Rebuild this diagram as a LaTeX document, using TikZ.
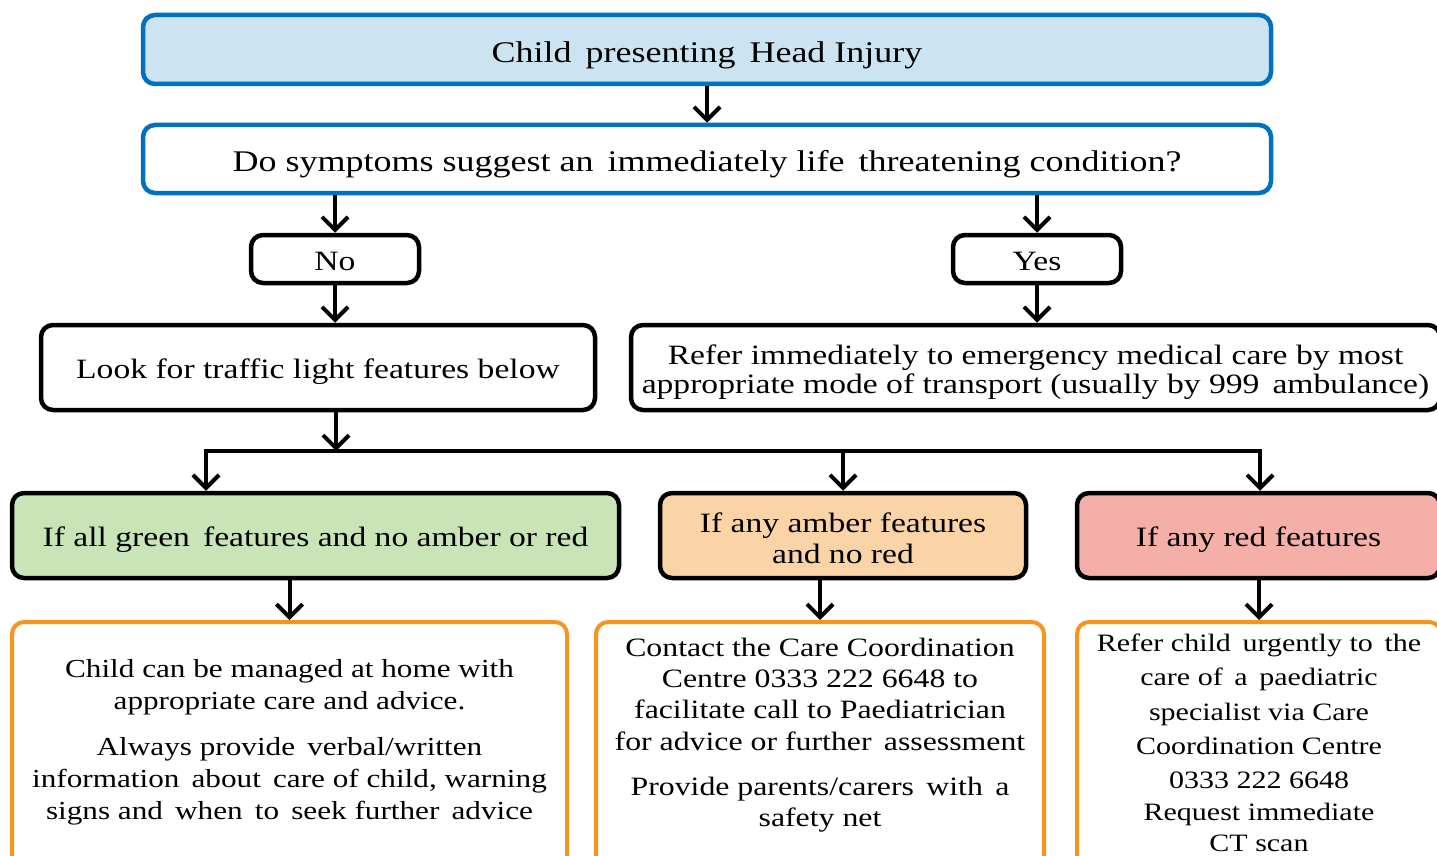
\documentclass[tikz,border=0pt]{standalone}
\usepackage{fontspec}
\setmainfont{Liberation Serif}[FakeStretch=1.2]
\usetikzlibrary{arrows.meta}
\definecolor{bblue}{HTML}{0070C0}
\definecolor{lblue}{HTML}{CCE3F1}
\definecolor{lgreen}{HTML}{C9E5B8}
\definecolor{lamber}{HTML}{FAD3A6}
\definecolor{lred}{HTML}{F4AFA8}
\definecolor{orng}{HTML}{F7941E}
\tikzset{
  box/.style={draw, rectangle, rounded corners=12pt, line width=4.5pt, inner sep=0pt},
  bluebox/.style={box, draw=bblue},
  blackbox/.style={box, draw=black},
  orangebox/.style={box, draw=orng, line width=4pt},
  txt/.style={inner sep=0pt, align=center},
  bigtxt/.style={txt, font=\fontsize{30}{36}\selectfont},
  midtxt/.style={txt, font=\fontsize{28}{31}\selectfont},
  arr/.style={line width=4pt, -{Straight Barb[length=13pt,width=26pt,line width=4pt]}},
  ln/.style={line width=4pt}
}
\begin{document}
\begin{tikzpicture}[x=1pt,y=-1pt]
\useasboundingbox (0,0) rectangle (1437,856);
\clip (0,0) rectangle (1437,856);
\fill[white] (0,0) rectangle (1437,856);

% boxes
\node[bluebox, fill=lblue, minimum width=1128pt, minimum height=69pt] (top) at (707,49.5) {};
\node[bluebox, fill=white, minimum width=1128pt, minimum height=68pt] (q) at (707,159) {};
\node[blackbox, minimum width=168pt, minimum height=48pt] (no) at (335,259) {};
\node[blackbox, minimum width=168pt, minimum height=48pt] (yes) at (1037,259) {};
\node[blackbox, minimum width=554pt, minimum height=85pt] (look) at (318,367.5) {};
\node[blackbox, minimum width=809pt, minimum height=85pt] (refer) at (1035.5,367.5) {};
\node[blackbox, fill=lgreen, minimum width=607pt, minimum height=85pt] (green) at (315.5,535.5) {};
\node[blackbox, fill=lamber, minimum width=366pt, minimum height=85pt] (amber) at (843,535.5) {};
\node[blackbox, fill=lred, minimum width=363pt, minimum height=85pt] (red) at (1258.5,535.5) {};
\node[orangebox, minimum width=555pt, minimum height=250pt] (bl) at (289.5,747) {};
\node[orangebox, minimum width=448pt, minimum height=250pt] (bm) at (820,747) {};
\node[orangebox, minimum width=364pt, minimum height=250pt] (br) at (1259,747) {};

% texts
\node[bigtxt] (ttop) at (707,55.5) {Child\, presenting\, Head Injury};
\node[bigtxt] (tq) at (707,164) {Do symptoms suggest an\, immediately life\, threatening condition?};
\node[midtxt] (tno) at (335,261) {No};
\node[midtxt] (tyes) at (1037,261) {Yes};
\node[midtxt] (tlook) at (318,371.5) {Look for traffic light features below};
\node[midtxt, font=\fontsize{28}{29}\selectfont] (trefer) at (1035.5,372.5) {Refer immediately to emergency medical care by most\\appropriate mode of transport (usually by 999\, ambulance)};
\node[midtxt] (tgreen) at (315.5,539.5) {If all green\, features and no amber or red};
\node[midtxt] (tamber) at (843,538) {If any amber features\\and no red};
\node[midtxt] (tred) at (1258.5,539.5) {If any red features};

\node[txt, font=\fontsize{26}{32}\selectfont] (tbl) at (289.5,742)
  {Child can be managed at home with\\appropriate care and advice.\\[14pt]Always provide\, verbal/written\\information\, about\, care of child, warning\\signs and\, when\, to\, seek further\, advice};
\node[txt, font=\fontsize{26.5}{31.3}\selectfont] (tbm) at (820,735)
  {Contact the Care Coordination\\Centre 0333 222 6648 to\\facilitate call to Paediatrician\\for advice or further\, assessment\\[13.5pt]Provide parents/carers\, with\, a\\safety net};
\node[txt, font=\fontsize{25}{34.3}\selectfont] (tbr) at (1259,743)
  {Refer child\, urgently to\, the\\care of\, a\, paediatric\\specialist via Care\\Coordination Centre\\0333 222 6648\\[-2.5pt]Request immediate\\[-3pt]CT scan};

% connectors
\draw[arr] (top.south) -- (q.north);
\draw[arr] (no.north |- q.south) -- (no.north);
\draw[arr] (yes.north |- q.south) -- (yes.north);
\draw[arr] (no.south) -- (no.south |- look.north);
\draw[arr] (yes.south) -- (yes.south |- refer.north);

\coordinate (j) at (336,451);
\coordinate (jl) at (206,451);
\coordinate (jm) at (843,451);
\coordinate (jr) at (1260,451);
\draw[arr] (look.south -| j) -- (j);
\draw[ln] ([xshift=-2pt]jl) -- ([xshift=2pt]jr);
\draw[arr] (jl) -- (jl |- green.north);
\draw[arr] (jm) -- (jm |- amber.north);
\draw[arr] (jr) -- (jr |- red.north);

\draw[arr] (green.south -| bl.north) -- (bl.north);
\draw[arr] (amber.south -| bm.north) -- (bm.north);
\draw[arr] (red.south -| br.north) -- (br.north);
\end{tikzpicture}
\end{document}
